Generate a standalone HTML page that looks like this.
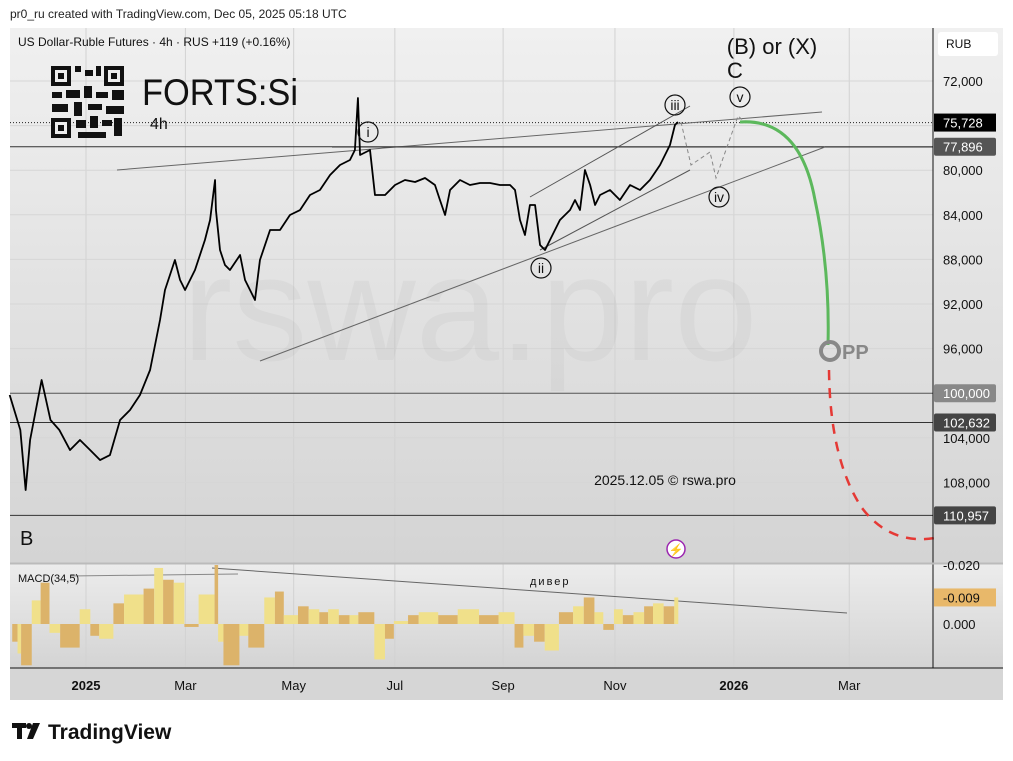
<!DOCTYPE html>
<html><head><meta charset="utf-8">
<style>
body{margin:0;width:1013px;height:761px;background:#fff;font-family:"Liberation Sans",sans-serif;overflow:hidden;position:relative}
svg{position:absolute;left:0;top:0}
text{font-family:"Liberation Sans",sans-serif}
</style></head><body>
<svg id="c" width="1013" height="761">
<defs>
<linearGradient id="bg" x1="0" y1="0" x2="0" y2="1"><stop offset="0" stop-color="#f0f0f0"/><stop offset="1" stop-color="#d4d4d4"/></linearGradient>
<linearGradient id="bg2" x1="0" y1="0" x2="0" y2="1"><stop offset="0" stop-color="#ececec"/><stop offset="1" stop-color="#d4d4d4"/></linearGradient>
</defs>
<text x="10" y="18" font-size="12" fill="#222">pr0_ru created with TradingView.com, Dec 05, 2025 05:18 UTC</text>
<rect x="10" y="28" width="993" height="535" fill="url(#bg)"/>
<rect x="10" y="564" width="993" height="104" fill="url(#bg2)"/>
<rect x="10" y="668" width="993" height="32" fill="#d6d6d6"/>
<g id="grid"></g>
<text x="470" y="360" font-size="150" fill="#000" fill-opacity="0.03" text-anchor="middle">rswa.pro</text>
<g id="lines"></g>
<g id="price"></g>
<g id="macd"></g>
<g id="ann"></g>
<line x1="933" y1="28" x2="933" y2="668" stroke="#111"/>
<line x1="10" y1="668" x2="1003" y2="668" stroke="#111"/>
<line x1="10" y1="563.5" x2="1003" y2="563.5" stroke="#bbb" stroke-width="2"/>
<g id="axis"></g>
<rect x="938" y="32" width="60" height="24" rx="3" fill="#fff"/>
<text x="946" y="48" font-size="12" fill="#111">RUB</text>
<text x="18" y="46" font-size="12" fill="#111">US Dollar-Ruble Futures · 4h · RUS  +119 (+0.16%)</text>
<g fill="#111">
<rect x="51" y="66" width="20" height="20"/><rect x="55" y="70" width="12" height="12" fill="#eee"/><rect x="58" y="73" width="6" height="6"/>
<rect x="104" y="66" width="20" height="20"/><rect x="108" y="70" width="12" height="12" fill="#eee"/><rect x="111" y="73" width="6" height="6"/>
<rect x="51" y="118" width="20" height="20"/><rect x="55" y="122" width="12" height="12" fill="#eee"/><rect x="58" y="125" width="6" height="6"/>
<rect x="75" y="66" width="6" height="6"/><rect x="85" y="70" width="8" height="6"/><rect x="96" y="66" width="5" height="10"/>
<rect x="52" y="92" width="10" height="6"/><rect x="66" y="90" width="14" height="8"/><rect x="84" y="86" width="8" height="12"/><rect x="96" y="92" width="12" height="6"/><rect x="112" y="90" width="12" height="10"/>
<rect x="52" y="104" width="16" height="8"/><rect x="74" y="102" width="8" height="14"/><rect x="88" y="104" width="14" height="6"/><rect x="106" y="106" width="18" height="8"/>
<rect x="76" y="120" width="10" height="8"/><rect x="90" y="116" width="8" height="12"/><rect x="102" y="120" width="10" height="6"/><rect x="114" y="118" width="8" height="18"/><rect x="78" y="132" width="28" height="6"/>
</g>
<text x="142" y="105" font-size="37" fill="#111" textLength="156" lengthAdjust="spacingAndGlyphs">FORTS:Si</text>
<text x="150" y="129" font-size="16" fill="#111">4h</text>
<text x="772" y="54" font-size="22" fill="#111" text-anchor="middle">(B) or (X)</text>
<text x="735" y="78" font-size="22" fill="#111" text-anchor="middle">C</text>
<text x="20" y="545" font-size="20" fill="#111">B</text>
<text x="665" y="485" font-size="14" fill="#111" text-anchor="middle">2025.12.05 © rswa.pro</text>
<text x="18" y="582" font-size="11" fill="#111">MACD(34,5)</text>
<text x="530" y="585" font-size="11" fill="#111" letter-spacing="2">дивер</text>
<circle cx="676" cy="549" r="9" fill="#fff" stroke="#9c27b0" stroke-width="1.5"/>
<text x="676" y="554" font-size="12" fill="#9c27b0" text-anchor="middle">⚡</text>
<circle cx="830" cy="351" r="9" fill="none" stroke="#888" stroke-width="4"/>
<text x="842" y="359" font-size="20" font-weight="bold" fill="#888">PP</text>
<g>
<rect x="12" y="723" width="14" height="5" fill="#111"/><rect x="17" y="723" width="5" height="16" fill="#111"/><circle cx="29" cy="726" r="3" fill="#111"/><polygon points="33,723 40,723 33,739 27,739" fill="#111"/>
<text x="48" y="739" font-size="21" font-weight="bold" fill="#111">TradingView</text>
</g>
</svg>
<script>
const days=[-43,-37,-34,-31.5,-25,-20,-15,-9,-3.4,2.3,7.9,13.5,19.2,24.8,30.4,36.1,41.7,44.5,50.1,53,55.8,61.4,67,69.9,72.7,73.2,75.5,78.3,81.1,86.8,89.6,92.4,95.2,98,103.7,109.3,114.9,120.6,126.2,131.8,137.5,143.1,148.7,151.5,153.2,154.4,160,162.8,168.5,174.1,179.7,185.4,191,196.6,199.4,202.3,205.1,210.7,216.3,222,227.6,233.2,238.9,241.7,244.5,247.3,250.1,253,255.8,258.6,261.4,267,272.7,275.5,278.3,281.1,284,286.8,289.6,295.2,300.8,306.5,312.1,317.7,323.4,329,331.8,333.5];
const prices=[100163,103302,108683,104198,98817,102405,103302,105096,104198,105096,105993,105544,102405,101508,100163,97920,93436,90745,88054,89848,90745,88951,86261,84467,80879,83570,87158,88503,88951,87606,89848,90745,91642,88054,85363,85363,84018,83570,82224,81776,80431,79534,79085,78188,73525,78637,78188,82224,82224,81327,80879,81058,80700,81327,82673,84018,81776,80879,81327,81148,81148,81327,81327,81776,84467,85812,83121,83121,86709,87158,86261,84467,83570,82673,83570,79982,81327,83121,82224,81776,82673,81327,81776,80879,79534,77740,75946,75677];
const macdDays=[-41,-38,-36,-30,-25,-20,-14,-3,3,8,16,22,33,39,44,50,56,64,73,75,78,87,92,101,107,112,120,126,132,137,143,149,154,163,169,174,182,188,199,210,222,233,242,247,253,259,267,275,281,287,292,298,303,309,315,320,326,332];
const macdVals=[-0.006,-0.01,-0.014,0.008,0.014,-0.003,-0.008,0.005,-0.004,-0.005,0.007,0.01,0.012,0.019,0.015,0.014,-0.001,0.01,0.02,-0.006,-0.014,-0.004,-0.008,0.009,0.011,0.003,0.006,0.005,0.004,0.005,0.003,0.003,0.004,-0.012,-0.005,0.001,0.003,0.004,0.003,0.005,0.003,0.004,-0.008,-0.004,-0.006,-0.009,0.004,0.006,0.009,0.004,-0.002,0.005,0.003,0.004,0.006,0.007,0.006,0.009];
const priceTicks=[72000,80000,84000,88000,92000,96000,104000,108000];
const gridPrices=[72000,76000,80000,84000,88000,92000,96000,100000,104000,108000];
const monthLabels=["2025","Mar","May","Jul","Sep","Nov","2026","Mar"];
const monthDays=[0,56,117,174,235,298,365,430];
const NS="http://www.w3.org/2000/svg";
const X=d=>86+d*1.775;
const Y=p=>81+(p-72000)*44.6/4000;
const MY=v=>624+v*59/0.02;
function el(t,a,parent){const e=document.createElementNS(NS,t);for(const k in a)e.setAttribute(k,a[k]);document.getElementById(parent).appendChild(e);return e;}
monthDays.forEach((d,i)=>{const g=el('line',{x1:X(d),x2:X(d),y1:28,y2:668,stroke:'#d2d2d2'},'grid');


const t=el('text',{x:X(d),y:690,'font-size':13,'text-anchor':'middle',fill:'#111','font-weight':(i==0||i==6)?'bold':'normal'},'axis');t.textContent=monthLabels[i];

});
gridPrices.forEach(p=>{const g=el('line',{x1:10,x2:933,y1:Y(p),y2:Y(p),stroke:'#d6d6d6'},'grid');

});
priceTicks.forEach(p=>{const t=el('text',{x:943,y:Y(p)+5,'font-size':13,fill:'#111'},'axis');t.textContent=p.toLocaleString('en-US');

});
const zt=el('text',{x:943,y:MY(0)+5,'font-size':13,fill:'#111'},'axis');zt.textContent='0.000';


const zt2=el('text',{x:943,y:MY(-0.02)+5,'font-size':13,fill:'#111'},'axis');zt2.textContent='-0.020';


[[100000,'#555','#888'],[102632,'#333','#444'],[110957,'#333','#444'],[77896,'#333','#555']].forEach(([p,c,bg])=>{
const l=el('line',{x1:10,x2:933,y1:Y(p),y2:Y(p),stroke:c,'stroke-width':1},'lines');


const r=el('rect',{x:934,y:Y(p)-9,width:62,height:18,rx:2,fill:bg},'axis');


const t=el('text',{x:943,y:Y(p)+5,'font-size':13,fill:'#fff'},'axis');t.textContent=p.toLocaleString('en-US');

});
const cur=prices[prices.length-1]+51;
const dl=el('line',{x1:10,x2:933,y1:Y(cur),y2:Y(cur),stroke:'#222','stroke-dasharray':'1 2'},'lines');


const cr=el('rect',{x:934,y:Y(cur)-9,width:62,height:18,fill:'#000'},'axis');


const ct=el('text',{x:943,y:Y(cur)+5,'font-size':13,fill:'#fff'},'axis');ct.textContent='75,728';


const mr=el('rect',{x:934,y:MY(-0.009)-9,width:62,height:18,fill:'#e8b86a'},'axis');


const mt=el('text',{x:943,y:MY(-0.009)+5,'font-size':13,fill:'#111'},'axis');mt.textContent='-0.009';


const pl=el('polyline',{points:days.map((d,i)=>X(d)+','+Y(prices[i])).join(' '),fill:'none',stroke:'#000','stroke-width':1.8,'stroke-linejoin':'round'},'price');


macdDays.forEach((d,i)=>{const v=macdVals[i];const y0=MY(0),y1=MY(-v);
const nx=i<macdDays.length-1?X(macdDays[i+1]):X(d)+4;
const w=Math.max(2,nx-X(d));
const b=el('rect',{x:X(d)-1,y:Math.min(y0,y1),width:w,height:Math.abs(y1-y0),fill:i%2?'#f0e08a':'#dcb36a'},'macd');

});
const tl=[[117,170,822,112,'#666'],[332,147,933,147,'#333'],[260,361,825,147,'#666'],[530,197,690,106,'#555'],[540,250,690,170,'#555'],[212,568,847,613,'#666'],[70,576,238,574,'#888']];
tl.forEach(a=>{const l=el('line',{x1:a[0],y1:a[1],x2:a[2],y2:a[3],stroke:a[4],'stroke-width':1},'lines');

});
const pth=el('polyline',{points:'681,122 691,165 710,152 716,178 738,116 745,122',fill:'none',stroke:'#888','stroke-dasharray':'4 3'},'lines');


const g1=el('path',{d:'M740 122 Q800 118 815 200 Q830 270 828 345',fill:'none',stroke:'#5cb85c','stroke-width':3},'lines');


const r1=el('path',{d:'M829 370 Q830 460 862 508 Q890 545 935 538',fill:'none',stroke:'#e53935','stroke-width':2.5,'stroke-dasharray':'10 8'},'lines');


[['i',368,132],['ii',541,268],['iii',675,105],['iv',719,197],['v',740,97]].forEach(([t,x,y])=>{
const c=el('circle',{cx:x,cy:y,r:10,fill:'none',stroke:'#111','stroke-width':1.2},'ann');


const tx=el('text',{x:x,y:y+5,'font-size':14,'text-anchor':'middle',fill:'#111'},'ann');tx.textContent=t;

});
</script>
</body></html>
